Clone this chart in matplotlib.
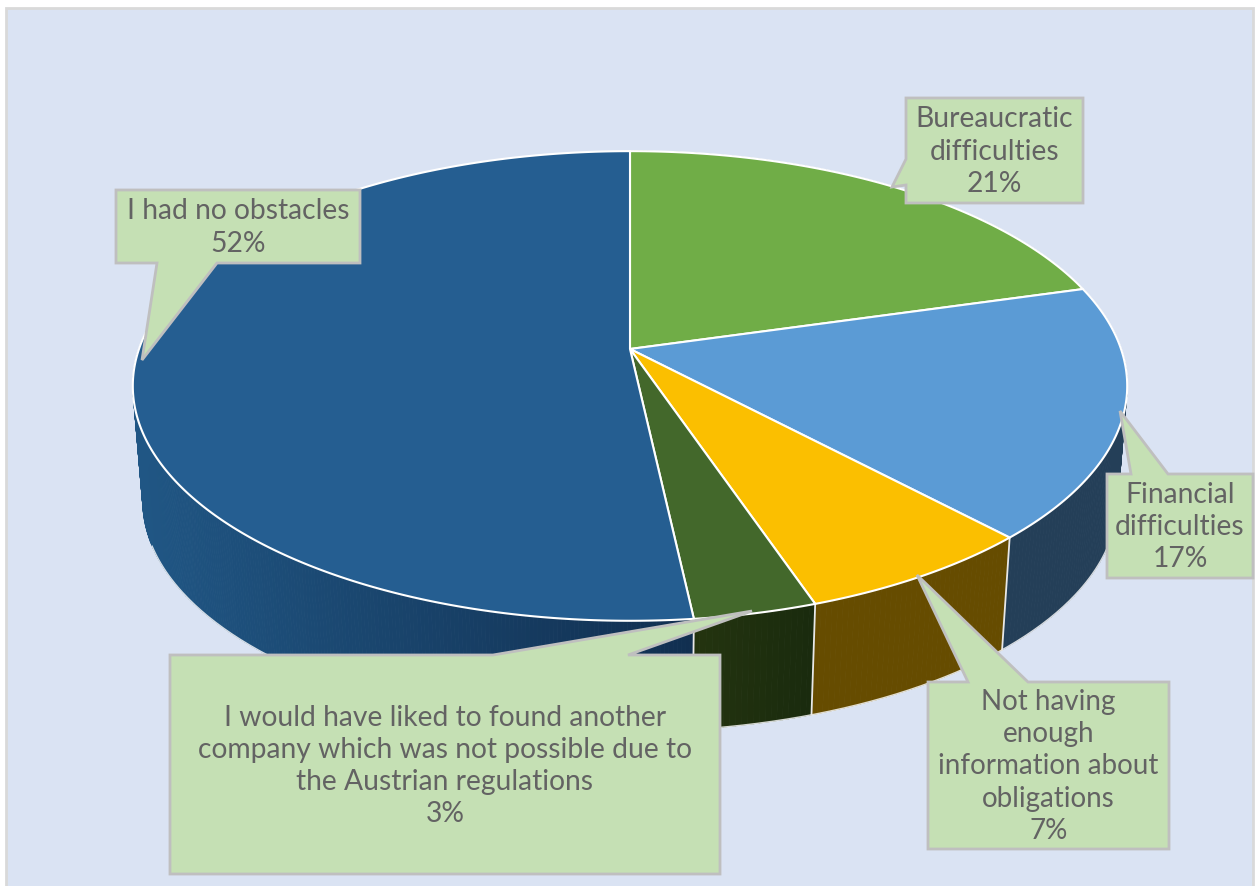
import numpy as np
import matplotlib
matplotlib.use("Agg")
import matplotlib.pyplot as plt
from matplotlib.collections import PolyCollection
from matplotlib.colors import to_rgb
from matplotlib.patches import Rectangle

# Data, clockwise from 12 o'clock
labels = ["Bureaucratic\ndifficulties", "Financial\ndifficulties",
          "Not having\nenough\ninformation about\nobligations",
          "I would have liked to found another\ncompany which was not possible due to\nthe Austrian regulations",
          "I had no obstacles"]
shares = [20.6, 17.4, 6.8, 3.45, 51.75]
top_colors = ["#70ad47", "#5b9bd5", "#fbbf00", "#43682b", "#255e91"]
wall_left = ["#3f6128", "#243f58", "#664c00", "#24340f", "#205684"]
wall_right = ["#3f6128", "#243f58", "#664c00", "#1a2b0e", "#112f50"]

# pie geometry in pixels, a circle seen in perspective
cx, cy = 630, 350
a, b, k = 491, 229, 0.1574
wall_scale, wall_drop = 0.98, 116


def rim(t, scale=1.0, drop=0.0):
    u, v = np.sin(t), np.cos(t)
    d = 1 + k * v
    return cx + scale * a * u / d, cy + scale * b * (-v) / d + drop


def callout(box, tip, base, side, text, size, **kw):
    x0, y0, x1, y1 = box
    if side == "left":
        pts = [(x0, y0), (x1, y0), (x1, y1), (x0, y1), base[1], tip, base[0]]
    elif side == "top":
        pts = [(x0, y0), base[0], tip, base[1], (x1, y0), (x1, y1), (x0, y1)]
    else:
        pts = [(x0, y0), (x1, y0), (x1, y1), base[1], tip, base[0], (x0, y1)]
    ax.fill(*zip(*pts), facecolor="#c5e0b4", edgecolor="#bfbfbf", lw=2, zorder=5, joinstyle="miter")
    ax.text((x0 + x1) / 2, kw.pop("yc", (y0 + y1) / 2), text, ha="center", va="center", fontsize=size,
            color="#636363", family=["Lato", "DejaVu Sans"], linespacing=1.29, zorder=6, **kw)


fig = plt.figure(figsize=(12.6, 8.87), dpi=100, facecolor="white")
ax = fig.add_axes([0, 0, 1, 1])
ax.set_xlim(0, 1260)
ax.set_ylim(887, 0)
ax.axis("off")
ax.add_patch(Rectangle((6, 9), 1247, 890, facecolor="#dae3f3", edgecolor="#d9d9d9", lw=2, zorder=0))

edges = np.cumsum([0] + shares) / sum(shares) * 2 * np.pi

# side wall, shaded left to right inside each slice
quads, quad_cols = [], []
for i in range(len(shares)):
    end = min(edges[i + 1], np.radians(300))
    n = max(4, int(shares[i] * 6))
    ts = np.linspace(edges[i], end, n + 1)
    c0, c1 = np.array(to_rgb(wall_left[i])), np.array(to_rgb(wall_right[i]))
    xl = rim(np.radians(270), wall_scale)[0] if i == 4 else rim(edges[i + 1], wall_scale)[0]
    xr = rim(edges[i], wall_scale)[0]
    for j in range(n):
        t0, t1 = ts[j], ts[j + 1]
        tx0, ty0 = rim(t0)
        tx1, ty1 = rim(t1)
        bx0, by0 = rim(t0, wall_scale, wall_drop)
        bx1, by1 = rim(t1, wall_scale, wall_drop)
        quads.append([(tx0, ty0), (tx1, ty1), (bx1, by1), (bx0, by0)])
        f = np.clip((bx0 - xl) / (xr - xl), 0, 1)
        quad_cols.append(tuple(c0 + (c1 - c0) * f))
ax.add_collection(PolyCollection(quads, facecolors=quad_cols, edgecolors=quad_cols, linewidths=0.6, zorder=1))

# outer lower rim and the vertical seams between slices
tt = np.linspace(np.radians(95), np.radians(250), 300)
ax.plot(*rim(tt, wall_scale, wall_drop), color="white", lw=1.0, alpha=0.8, zorder=2)
for e in edges[2:5]:
    xt, yt = rim(e)
    xb, yb = rim(e, wall_scale, wall_drop)
    ax.plot([xt, xb], [yt, yb], color="#e8e8e8", lw=1.3, zorder=2)

# top face
for i in range(len(shares)):
    ts = np.linspace(edges[i], edges[i + 1], max(8, int(shares[i] * 8)))
    xs, ys = rim(ts)
    ax.fill(np.r_[cx, xs], np.r_[cy, ys], facecolor=top_colors[i], edgecolor="white", lw=1.5,
            joinstyle="round", zorder=3)

pct = [f"{s:.0f}%" for s in shares]
callout((906, 99, 1083, 204), (892, 188), ((906, 160), (906, 186)), "left",
        f"{labels[0]}\n{pct[0]}", 20.3)
callout((1107, 475, 1253, 579), (1120, 412), ((1131, 475), (1168, 475)), "top",
        f"{labels[1]}\n{pct[1]}", 20.3)
callout((928, 683, 1169, 850), (917, 576), ((968, 683), (1028, 683)), "top",
        f"{labels[2]}\n{pct[2]}", 20)
callout((170, 656, 720, 875), (752, 612), ((493, 656), (628, 656)), "top",
        f"{labels[3]}\n{pct[3]}", 20.3, yc=766)
callout((116, 191, 360, 264), (142, 361), ((157, 264), (217, 264)), "bottom",
        f"{labels[4]}\n{pct[4]}", 20.3)

fig.savefig("out.png", dpi=100)
